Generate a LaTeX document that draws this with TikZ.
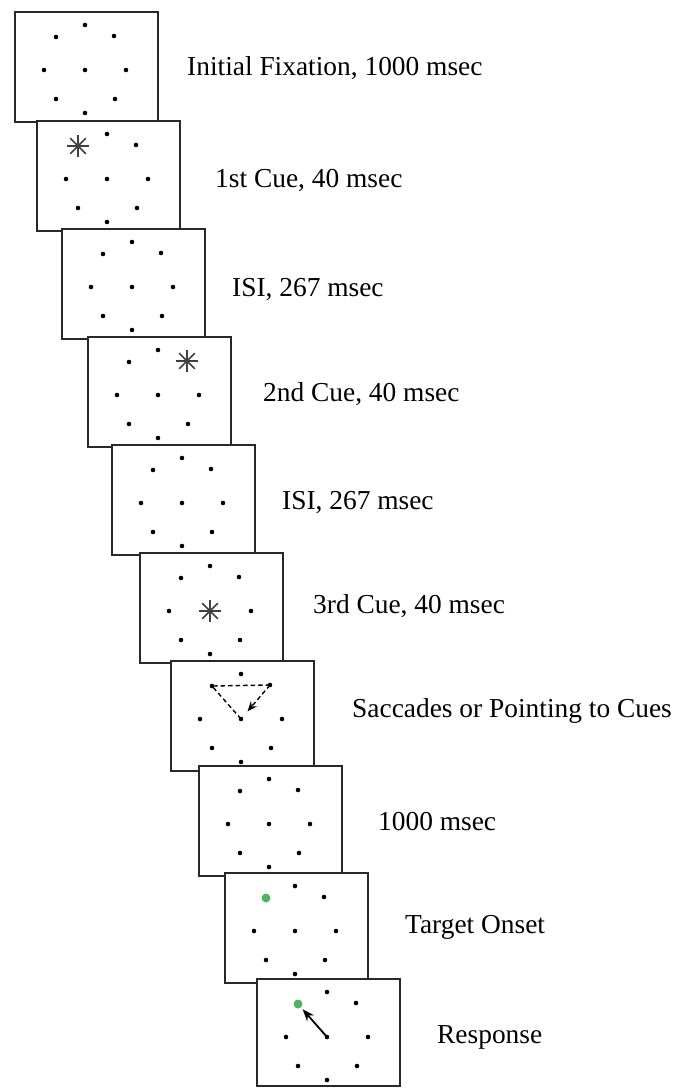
\documentclass[tikz,border=0pt]{standalone}
\usepackage{fontspec}
\setmainfont{Liberation Serif}
\usetikzlibrary{arrows.meta,calc}
\definecolor{frameline}{RGB}{40,40,40}
\definecolor{cuegreen}{RGB}{80,180,95}
\begin{document}
\begin{tikzpicture}[x=1pt,y=-1pt,
  frame/.style={draw=frameline,line width=1.8pt,fill=white,anchor=north west,
    minimum width=143pt,inner sep=0pt,outer sep=0pt},
  lab/.style={anchor=base west,inner sep=0pt,font=\fontsize{27.4}{30}\selectfont},
  starline/.style={draw=black!75,line width=1.6pt},
  dashline/.style={line width=1.4pt,dash pattern=on 4.5pt off 3pt},
  greendot/.style={fill=cuegreen}]
\useasboundingbox (0,0) rectangle (680,1088);
\foreach \i/\l/\t/\h in {1/15/12/110,2/37/121/110,3/62/229/110,4/88/337/110,
  5/112/445/110,6/140/553/110,7/171/661/110,8/199/766/110,9/225/873/110,10/257/979/107}{
  \node[frame,minimum height=\h pt] (f\i) at (\l,\t) {};
  \coordinate (c\i) at (\l+70,\t+58);
  \foreach \n/\dx/\dy in {c/0/0,n/0/-45,ne/29/-34,e/41/0,se/30/29,s/0/43,sw/-29/29,w/-41/0,nw/-29/-33}{
    \coordinate (f\i-\n) at ($(c\i)+(\dx,\dy)$);
    \fill (f\i-\n) circle (2.3);
  }
}
% cue stars
\foreach \p in {f2-nw,f4-ne,f6-c}{
  \foreach \a in {0,45,90,135}{
    \draw[starline] ($(\p)+(\a:11)$) -- ($(\p)+(\a+180:11)$);
  }
}
% saccade path
\draw[dashline] (f7-c) -- (f7-nw) -- (f7-ne);
\draw[dashline,-{Stealth[length=10pt,width=8pt]},shorten >=10pt] (f7-ne) -- (f7-c);
% targets
\fill[greendot] (f9-nw) circle (4.5);
\fill[greendot] (f10-nw) circle (4.5);
\draw[line width=1.8pt,-{Stealth[length=12pt,width=9pt]},shorten >=7pt] (f10-c) -- (f10-nw);
% labels
\node[lab] (l1) at (187,75) {Initial Fixation, 1000 msec};
\node[lab] (l2) at (215,187) {1st Cue, 40 msec};
\node[lab] (l3) at (232,296) {ISI, 267 msec};
\node[lab] (l4) at (263,401) {2nd Cue, 40 msec};
\node[lab] (l5) at (282,509) {ISI, 267 msec};
\node[lab] (l6) at (313,613) {3rd Cue, 40 msec};
\node[lab] (l7) at (352,717) {Saccades or Pointing to Cues};
\node[lab] (l8) at (378,830) {1000 msec};
\node[lab] (l9) at (405,933) {Target Onset};
\node[lab] (l10) at (437,1043) {Response};
\end{tikzpicture}
\end{document}
